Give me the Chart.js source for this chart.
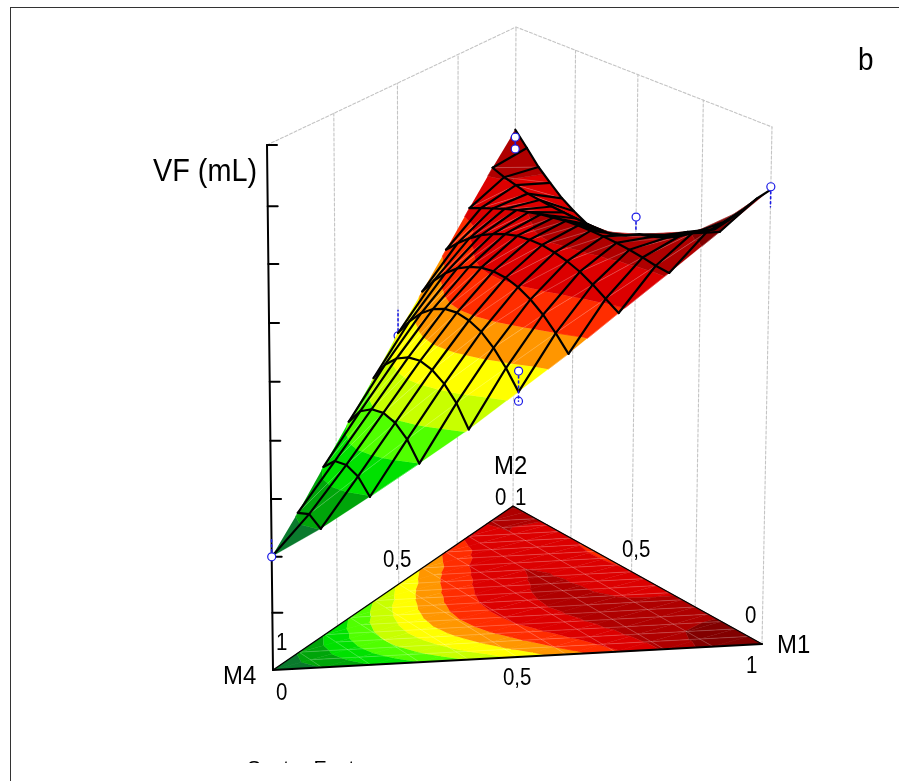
<!DOCTYPE html>
<html>
<head>
<meta charset="utf-8">
<title>VF mixture surface</title>
<script src="https://cdn.jsdelivr.net/npm/chart.js@4/dist/chart.umd.min.js"></script>
<style>
  html, body { margin: 0; padding: 0; background: #fff; overflow: hidden; }
  canvas { display: block; }
</style>
</head>
<body>
<canvas id="myChart" width="899" height="781"></canvas>
<script>
// VF, one array per mesh arc (M1 + M2 = n/10).
// Each arc runs from the M4-M2 edge to the M4-M1 edge in steps of 0.05 of M1.
var vfArc0 = [1.94];
var vfArc1 = [2.41, 2.51, 2.38];
var vfArc2 = [2.93, 3.15, 3.20, 3.12, 2.89];
var vfArc3 = [3.45, 3.75, 3.90, 3.95, 3.89, 3.72, 3.42];
var vfArc4 = [3.96, 4.31, 4.53, 4.66, 4.71, 4.66, 4.53, 4.31, 3.97];
var vfArc5 = [4.51, 4.83, 5.08, 5.26, 5.37, 5.41, 5.38, 5.29, 5.12, 4.88, 4.58];
var vfArc6 = [5.01, 5.31, 5.55, 5.74, 5.87, 5.96, 6.00, 5.99, 5.93, 5.82, 5.66, 5.45, 5.20];
var vfArc7 = [5.53, 5.75, 5.94, 6.10, 6.22, 6.32, 6.39, 6.42, 6.43, 6.40, 6.35, 6.27, 6.15, 6.01, 5.87];
var vfArc8 = [6.06, 6.16, 6.25, 6.34, 6.42, 6.48, 6.54, 6.58, 6.62, 6.64, 6.65, 6.65, 6.64, 6.62, 6.59, 6.55, 6.53];
var vfArc9 = [6.58, 6.50, 6.45, 6.39, 6.37, 6.35, 6.34, 6.33, 6.32, 6.32, 6.34, 6.43, 6.55, 6.61, 6.69, 6.82, 6.98, 7.09, 7.21];
var vfArc10 = [7.07, 6.82, 6.56, 6.36, 6.17, 6.03, 5.91, 5.87, 5.88, 5.92, 5.98, 6.12, 6.26, 6.40, 6.56, 6.69, 6.81, 7.07, 7.35, 7.65, 7.91];
var vfArcs = [vfArc0, vfArc1, vfArc2, vfArc3, vfArc4, vfArc5, vfArc6, vfArc7, vfArc8, vfArc9, vfArc10];

// contour levels and the band colours between them
var levels = [2.37, 2.90, 3.42, 3.93, 4.44, 4.95, 5.45, 5.95, 6.47, 6.97];
var bandColors = ['#0a7a2d', '#00a50a', '#00e100', '#50ff00', '#c8ff00', '#ffff00', '#ff9600', '#ff2d00', '#dc0000', '#af0000', '#820000'];

// VF axis ticks as they sit on the axis, no numbers are printed on them
var vfTicks = [0.98, 1.94, 2.93, 3.93, 4.94, 5.95, 6.96, 7.95, 9];
var wallSteps = [0.25, 0.5, 0.75];

// design points
var designM1 = [0, 0, 0.5, 1, 0, 0.5, 0.5, 0];
var designM2 = [1, 1, 0.5, 0, 0, 0, 0, 0.5];
var designVF = [6.93, 6.71, 6.42, 7.96, 1.94, 4.94, 4.42, 4.46];
var stemM1 = [0, 0.5, 1, 0, 0.5, 0];
var stemM2 = [1, 0.5, 0, 0, 0, 0.5];
var stemFrom = [6.93, 6.42, 7.96, 1.94, 4.94, 4.46];
var stemTo = [6.71, 6.15, 7.61, 2.23, 4.42, 4.92];

var cornerNames = ['M1', 'M2', 'M4'];
var axisTitle = 'VF (mL)';
var panelLetter = 'b';
var tickTexts = ['0', '0,5', '1'];
var footerText = 'Sector Factor';

// view of the box: base and top corners on the page
var cornerM4 = { bx: 273, by: 670, tx: 267, ty: 145 };
var cornerM2 = { bx: 513, by: 506, tx: 516, ty: 27 };
var cornerM1 = { bx: 762, by: 644, tx: 772, ty: 127 };
var vfMax = 9;
var m2Weight = 1.1;

function project(m1, m2, vf) {
  var w1 = m1, w2 = m2 * m2Weight, w4 = 1 - m1 - m2;
  var sum = w1 + w2 + w4;
  var f = vf / vfMax;
  function along(c, base, top) { return c[base] + f * (c[top] - c[base]); }
  return {
    x: (w1 * along(cornerM1, 'bx', 'tx') + w2 * along(cornerM2, 'bx', 'tx') + w4 * along(cornerM4, 'bx', 'tx')) / sum,
    y: (w1 * along(cornerM1, 'by', 'ty') + w2 * along(cornerM2, 'by', 'ty') + w4 * along(cornerM4, 'by', 'ty')) / sum
  };
}

function vertex(n, j) {
  return { m1: j / 20, m2: (2 * n - j) / 20, vf: vfArcs[n][j] };
}

function mix(p, q, t) {
  return { m1: p.m1 + t * (q.m1 - p.m1), m2: p.m2 + t * (q.m2 - p.m2), vf: p.vf + t * (q.vf - p.vf) };
}

// keep the part of a polygon on one side of a VF level
function clipLevel(poly, level, keepAbove) {
  var out = [];
  for (var i = 0; i < poly.length; i++) {
    var p = poly[i], q = poly[(i + 1) % poly.length];
    var pIn = keepAbove ? p.vf >= level : p.vf <= level;
    var qIn = keepAbove ? q.vf >= level : q.vf <= level;
    if (pIn) out.push(p);
    if (pIn != qIn) out.push(mix(p, q, (level - p.vf) / (q.vf - p.vf)));
  }
  return out;
}

var layers = [];

function addLine(points, color, width, dash) {
  layers.push({
    data: points, showLine: true, fill: false, pointRadius: 0,
    borderColor: color, borderWidth: width, borderDash: dash || [],
    borderCapStyle: 'round', borderJoinStyle: 'round'
  });
}

function addPolygon(points, color) {
  layers.push({
    data: points, showLine: true, fill: 'shape', backgroundColor: color,
    borderColor: color, borderWidth: 0.7, pointRadius: 0
  });
}

function addBands(tri, onFloor) {
  for (var b = 0; b < bandColors.length; b++) {
    var poly = tri;
    if (b > 0) poly = clipLevel(poly, levels[b - 1], true);
    if (b < levels.length && poly.length) poly = clipLevel(poly, levels[b], false);
    if (poly.length < 3) continue;
    addPolygon(poly.map(function (v) {
      return project(v.m1, v.m2, onFloor ? 0 : v.vf);
    }), bandColors[b]);
  }
}

function stripTriangles(n) {
  var tris = [[vertex(n, 0), vertex(n + 1, 1), vertex(n + 1, 0)]];
  for (var j = 0; j < 2 * n; j++) {
    tris.push([vertex(n, j), vertex(n, j + 1), vertex(n + 1, j + 2)]);
    tris.push([vertex(n, j), vertex(n + 1, j + 2), vertex(n + 1, j + 1)]);
  }
  tris.push([vertex(n, 2 * n), vertex(n + 1, 2 * n + 1), vertex(n + 1, 2 * n + 2)]);
  return tris;
}

function gap() { return { x: NaN, y: NaN }; }

function meshSegments(n, from, to, floor) {
  // from and to give the arc of each segment end, to also its step along the arc
  var pts = [];
  for (var j = 0; j <= 2 * n; j++) {
    var p = vertex(from[0], j), q = vertex(to[0], j + to[1]);
    pts.push(project(p.m1, p.m2, floor ? 0 : p.vf), project(q.m1, q.m2, floor ? 0 : q.vf), gap());
  }
  return pts;
}

function arcPoints(n, floor) {
  return vfArcs[n].map(function (v, j) {
    var p = vertex(n, j);
    return project(p.m1, p.m2, floor ? 0 : v);
  });
}

function buildLayers() {
  var i, n;
  var grey = '#c4c4c4';

  // back walls
  wallSteps.concat([1]).forEach(function (t) {
    addLine([project(0, t, 0), project(0, t, vfMax)], grey, 1.1, [3, 2]);
    if (t < 1) addLine([project(t, 1 - t, 0), project(t, 1 - t, vfMax)], grey, 1.1, [3, 2]);
  });
  addLine([project(1, 0, 0), project(1, 0, vfMax)], grey, 1.1, [3, 2]);
  addLine([project(0, 0, vfMax), project(0, 1, vfMax), project(1, 0, vfMax)], grey, 1.1, [3, 2]);

  // VF axis
  addLine([project(0, 0, 0), project(0, 0, vfMax)], '#000', 2);
  vfTicks.forEach(function (t) {
    var p = project(0, 0, t);
    addLine([p, { x: p.x + 10, y: p.y }], '#000', 2);
  });

  // floor contours
  for (n = 0; n < 10; n++) {
    stripTriangles(n).forEach(function (tri) { addBands(tri, true); });
  }
  var floorLight = [];
  for (n = 1; n <= 10; n++) {
    floorLight = floorLight.concat(arcPoints(n, true), [gap()]);
  }
  for (n = 0; n < 10; n++) {
    floorLight = floorLight.concat(meshSegments(n, [n], [n + 1, 2], true));
  }
  addLine(floorLight, 'rgba(255,255,255,0.26)', 0.8);
  addLine([project(0, 0, 0), project(0, 1, 0), project(1, 0, 0)], '#000', 1.4);
  addLine([project(0, 0, 0), project(1, 0, 0)], '#000', 2.2);

  // design points that sit under the surface
  stemDraw(5, 6);
  markerDraw(6, 8);

  // surface, from the far edge to the tip so near cells hide what is behind
  for (n = 9; n >= 0; n--) {
    stripTriangles(n).forEach(function (tri) { addBands(tri, false); });
    addLine(meshSegments(n, [n], [n + 1, 2], false), 'rgba(255,255,255,0.3)', 0.7);
    addLine(meshSegments(n, [n], [n + 1, 1], false), '#000', 2.2);
    addLine(arcPoints(n + 1, false), '#000', 2.2);
  }

  // remaining design points
  for (i = 0; i < 5; i++) stemDraw(i, i + 1);
  markerDraw(0, 6);
}

function stemDraw(from, to) {
  for (var i = from; i < to; i++) {
    addLine([project(stemM1[i], stemM2[i], stemFrom[i]), project(stemM1[i], stemM2[i], stemTo[i])], '#1a1ae6', 1.6, [2, 3]);
  }
}

function markerDraw(from, to) {
  var pts = [];
  for (var i = from; i < to; i++) pts.push(project(designM1[i], designM2[i], designVF[i]));
  layers.push({
    data: pts, showLine: false, pointRadius: 4, pointBorderWidth: 1.2,
    pointBackgroundColor: '#fff', pointBorderColor: '#1a1ae6'
  });
}

// frame and all the text of the plot
var plotText = {
  id: 'plotText',
  beforeDraw: function (chart) {
    var ctx = chart.ctx;
    ctx.save();
    ctx.strokeStyle = '#333';
    ctx.lineWidth = 1;
    ctx.strokeRect(10.5, 7.5, 1000, 1000);
    ctx.restore();
  },
  afterDraw: function (chart) {
    var ctx = chart.ctx;
    var font = '"Liberation Sans", Arial, sans-serif';
    // the original lettering is a little narrower than Liberation Sans
    function put(text, x, y, size, narrow) {
      ctx.save();
      ctx.translate(x, y);
      ctx.scale(narrow, 1);
      ctx.font = size + 'px ' + font;
      ctx.fillText(text, 0, 0);
      ctx.restore();
    }
    ctx.save();
    ctx.fillStyle = '#000';
    ctx.textBaseline = 'alphabetic';
    ctx.textAlign = 'left';
    put(axisTitle, 153, 181, 32, 0.9);
    put(panelLetter, 858, 70, 31, 0.9);
    put(cornerNames[1], 494, 474, 26, 0.92);
    put(cornerNames[0], 777, 653, 26, 0.92);
    put(cornerNames[2], 223, 684, 26, 0.92);
    put(tickTexts[0], 495, 505, 23.5, 0.87);
    put(tickTexts[2], 515, 505, 23.5, 0.87);
    put(tickTexts[1], 383, 567, 23.5, 0.87);
    put(tickTexts[1], 622, 557, 23.5, 0.87);
    put(tickTexts[0], 745, 623, 23.5, 0.87);
    put(tickTexts[2], 746, 673, 23.5, 0.87);
    put(tickTexts[1], 503, 685, 23.5, 0.87);
    put(tickTexts[0], 276, 700, 23.5, 0.87);
    put(tickTexts[2], 276, 650, 23.5, 0.87);
    ctx.beginPath();
    ctx.rect(0, 0, 899, 763);
    ctx.clip();
    put(footerText, 247, 775, 21, 1);
    ctx.restore();
  }
};

function getGraph() {
  buildLayers();
  var ctx = document.getElementById('myChart').getContext('2d');
  new Chart(ctx, {
    type: 'scatter',
    // the first dataset is painted last
    data: { datasets: layers.slice().reverse() },
    options: {
      responsive: false,
      animation: false,
      events: [],
      layout: { padding: 0, autoPadding: false },
      plugins: { legend: { display: false }, tooltip: { enabled: false }, title: { display: false } },
      scales: {
        x: { type: 'linear', min: 0, max: 899, display: false },
        y: { type: 'linear', min: 0, max: 781, reverse: true, display: false }
      }
    },
    plugins: [plotText]
  });
}

getGraph();
</script>
</body>
</html>
